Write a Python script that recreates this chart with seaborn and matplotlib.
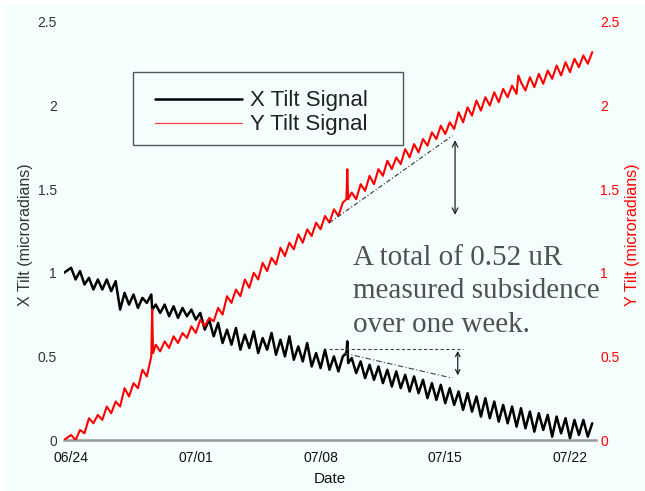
import matplotlib
matplotlib.use("Agg")
import matplotlib.pyplot as plt
import numpy as np
import pandas as pd
import seaborn as sns
from matplotlib.lines import Line2D
from matplotlib.patches import Rectangle

# ---------------- data (days since 06/24) ----------------
x_days = [-0.4,
          0.0, 0.25, 0.5, 0.75,
          1.0, 1.25, 1.5, 1.75,
          2.0, 2.25, 2.5, 2.75,
          3.0, 3.25, 3.5, 3.75,
          4.0, 4.25, 4.5, 4.55, 4.75,
          5.0, 5.25, 5.5, 5.75,
          6.0, 6.25, 6.5, 6.75,
          7.0, 7.25, 7.5, 7.75,
          8.0, 8.25, 8.5, 8.75,
          9.0, 9.25, 9.5, 9.75,
          10.0, 10.25, 10.5, 10.75,
          11.0, 11.25, 11.5, 11.75,
          12.0, 12.25, 12.5, 12.75,
          13.0, 13.25, 13.5, 13.75,
          14.0, 14.25, 14.5, 14.75,
          15.0, 15.25, 15.45, 15.5, 15.55, 15.75,
          16.0, 16.25, 16.5, 16.75,
          17.0, 17.25, 17.5, 17.75,
          18.0, 18.25, 18.5, 18.75,
          19.0, 19.25, 19.5, 19.75,
          20.0, 20.25, 20.5, 20.75,
          21.0, 21.25, 21.5, 21.75,
          22.0, 22.25, 22.5, 22.75,
          23.0, 23.25, 23.5, 23.75,
          24.0, 24.25, 24.5, 24.75,
          25.0, 25.25, 25.5, 25.75,
          26.0, 26.25, 26.5, 26.75,
          27.0, 27.25, 27.5, 27.75,
          28.0, 28.25, 28.5, 28.75,
          29.0, 29.25]
x_tilt = [1.00,
          1.03, 0.96, 1.01, 0.93,
          0.97, 0.90, 0.96, 0.90,
          0.96, 0.89, 0.95, 0.78,
          0.88, 0.81, 0.87, 0.79,
          0.85, 0.82, 0.87, 0.78, 0.81,
          0.76, 0.81, 0.74, 0.80,
          0.73, 0.79, 0.74, 0.78,
          0.72, 0.76, 0.66, 0.72,
          0.62, 0.70, 0.58, 0.66,
          0.57, 0.67, 0.54, 0.63,
          0.55, 0.65, 0.52, 0.61,
          0.54, 0.64, 0.51, 0.60,
          0.50, 0.62, 0.48, 0.56,
          0.47, 0.58, 0.44, 0.52,
          0.43, 0.54, 0.42, 0.50,
          0.41, 0.50, 0.52, 0.59, 0.46, 0.49,
          0.40, 0.47, 0.37, 0.45,
          0.36, 0.44, 0.34, 0.42,
          0.32, 0.41, 0.31, 0.39,
          0.29, 0.38, 0.28, 0.36,
          0.25, 0.34, 0.24, 0.33,
          0.22, 0.31, 0.21, 0.29,
          0.18, 0.28, 0.17, 0.26,
          0.14, 0.25, 0.13, 0.23,
          0.11, 0.21, 0.10, 0.20,
          0.08, 0.19, 0.07, 0.17,
          0.05, 0.16, 0.06, 0.15,
          0.02, 0.14, 0.04, 0.13,
          0.01, 0.12, 0.03, 0.12,
          0.02, 0.10]

y_days = [-0.4,
          0.0, 0.25, 0.5, 0.75,
          1.0, 1.25, 1.5, 1.75,
          2.0, 2.25, 2.5, 2.75,
          3.0, 3.25, 3.5, 3.75,
          4.0, 4.25, 4.5, 4.55, 4.6, 4.75,
          5.0, 5.25, 5.5, 5.75,
          6.0, 6.25, 6.5, 6.75,
          7.0, 7.25, 7.5, 7.75,
          8.0, 8.25, 8.5, 8.75,
          9.0, 9.25, 9.5, 9.75,
          10.0, 10.25, 10.5, 10.75,
          11.0, 11.25, 11.5, 11.75,
          12.0, 12.25, 12.5, 12.75,
          13.0, 13.25, 13.5, 13.75,
          14.0, 14.25, 14.5, 14.75,
          15.0, 15.25, 15.45, 15.5, 15.55, 15.75,
          16.0, 16.25, 16.5, 16.75,
          17.0, 17.25, 17.5, 17.75,
          18.0, 18.25, 18.5, 18.75,
          19.0, 19.25, 19.5, 19.75,
          20.0, 20.25, 20.5, 20.75,
          21.0, 21.25, 21.5, 21.75,
          22.0, 22.25, 22.5, 22.75,
          23.0, 23.25, 23.5, 23.75,
          24.0, 24.25, 24.5, 24.75,
          25.0, 25.1, 25.25, 25.5, 25.75,
          26.0, 26.25, 26.5, 26.75,
          27.0, 27.25, 27.5, 27.75,
          28.0, 28.25, 28.5, 28.75,
          29.0, 29.25]
y_tilt = [0.00,
          0.03, 0.00, 0.06, 0.04,
          0.13, 0.10, 0.15, 0.12,
          0.20, 0.16, 0.23, 0.20,
          0.31, 0.26, 0.34, 0.31,
          0.42, 0.38, 0.50, 0.78, 0.52, 0.57,
          0.53, 0.59, 0.55, 0.62,
          0.58, 0.64, 0.61, 0.68,
          0.64, 0.72, 0.68, 0.73,
          0.71, 0.79, 0.75, 0.86,
          0.82, 0.90, 0.86, 0.96,
          0.91, 1.00, 0.96, 1.06,
          1.01, 1.09, 1.05, 1.15,
          1.10, 1.18, 1.14, 1.23,
          1.18, 1.26, 1.22, 1.30,
          1.26, 1.34, 1.30, 1.38,
          1.34, 1.42, 1.44, 1.62, 1.44, 1.48,
          1.44, 1.53, 1.49, 1.58,
          1.53, 1.62, 1.58, 1.67,
          1.62, 1.69, 1.65, 1.74,
          1.69, 1.77, 1.72, 1.80,
          1.76, 1.84, 1.80, 1.88,
          1.83, 1.90, 1.86, 1.96,
          1.90, 1.99, 1.94, 2.03,
          1.97, 2.05, 2.00, 2.08,
          2.02, 2.10, 2.05, 2.12,
          2.07, 2.18, 2.14, 2.09, 2.17,
          2.11, 2.19, 2.13, 2.21,
          2.16, 2.24, 2.18, 2.26,
          2.20, 2.28, 2.23, 2.30,
          2.25, 2.32]

date_ticks = [0, 7, 14, 21, 28]
date_labels = ["06/24", "07/01", "07/08", "07/15", "07/22"]
tilt_ticks = [0, 0.5, 1, 1.5, 2, 2.5]
tilt_labels = ["0", "0.5", "1", "1.5", "2", "2.5"]
series_names = ["X Tilt Signal", "Y Tilt Signal"]
note_lines = ["A total of 0.52 uR", "measured subsidence", "over one week."]

# annotation guides (data coordinates)
red_trend = ([14.5, 21.4], [1.30, 1.82])
red_arrow = (21.55, 1.81, 1.33)
black_level = ([14.5, 22.0], [0.545, 0.545])
black_trend = ([15.3, 21.4], [0.52, 0.37])
black_arrow = (21.7, 0.55, 0.37)
note_pos = (15.8, [1.045, 0.848, 0.645])

# ---------------- styling ----------------
sns.set_style("white")
plt.rcParams["font.family"] = ["Liberation Sans", "DejaVu Sans"]
BG = "#F4FFFD"

fig = plt.figure(figsize=(6.45, 4.91), dpi=100, facecolor="white")
fig.patches.append(Rectangle((5 / 645, 0), 1, 1 - 5 / 491, transform=fig.transFigure,
                             facecolor=BG, edgecolor="none", zorder=-10))
ax = fig.add_axes([64 / 645, 51 / 491, 532 / 645, 418 / 491])
ax.set_facecolor(BG)
ax.patch.set_alpha(0)
ax2 = ax.twinx()
ax2.patch.set_alpha(0)

dfx = pd.DataFrame({"day": x_days, "tilt": x_tilt})
dfy = pd.DataFrame({"day": y_days, "tilt": y_tilt})
sns.lineplot(data=dfx, x="day", y="tilt", ax=ax, color="black", lw=1.8,
             estimator=None, sort=False, legend=False, solid_joinstyle="round")
sns.lineplot(data=dfy, x="day", y="tilt", ax=ax2, color="#FF0000", lw=1.5,
             estimator=None, sort=False, legend=False, solid_joinstyle="round")

for a in (ax, ax2):
    a.set_xlim(-0.4, 29.46)
    a.set_ylim(0, 2.5)
    for s in ("left", "right", "top"):
        a.spines[s].set_visible(False)
ax2.spines["bottom"].set_visible(False)
ax.spines["bottom"].set_color("#999999")
ax.spines["bottom"].set_linewidth(1.8)

ax.set_xticks(date_ticks)
ax.set_xticklabels(date_labels)
ax.set_xticks([0, 21], minor=True)
ax.tick_params(axis="x", which="major", length=0, pad=8, labelsize=10, labelcolor="#111111")
ax.tick_params(axis="x", which="minor", length=4, direction="in", color="#777777")

ax.set_yticks(tilt_ticks)
ax.set_yticklabels(tilt_labels)
ax.set_yticks([1.5, 2], minor=True)
ax.tick_params(axis="y", which="major", length=0, pad=5, labelsize=10, labelcolor="#333333")
ax.tick_params(axis="y", which="minor", length=4, direction="in", color="#444444")

ax2.set_yticks(tilt_ticks)
ax2.set_yticklabels(tilt_labels)
ax2.set_yticks([1.5, 2], minor=True)
ax2.tick_params(axis="y", which="major", length=0, pad=3, labelsize=10, labelcolor="#FF0000")
ax2.tick_params(axis="y", which="minor", length=4, direction="in", color="#FF4040")

ax.set_xlabel("Date", fontsize=11, color="#111111")
ax.xaxis.label.set_va("center")
ax.xaxis.set_label_coords(0.5, -0.093)
ax.set_ylabel("X Tilt (microradians)", fontsize=11.5, color="#333333")
ax.yaxis.label.set_va("center")
ax.yaxis.set_label_coords(-0.073, 0.49)
ax2.set_ylabel("Y Tilt (microradians)", fontsize=11.5, color="#FF0000", rotation=90)
ax2.yaxis.label.set_va("center")
ax2.yaxis.set_label_coords(1.068, 0.49)

# annotations
ax2.plot(*red_trend, color="#333333", lw=0.8, ls=(0, (4, 2, 1, 2)))
ax2.annotate("", xy=(red_arrow[0], red_arrow[1]), xytext=(red_arrow[0], red_arrow[2]),
             arrowprops=dict(arrowstyle="<->", color="#222222", lw=0.9, mutation_scale=10))
ax.plot(*black_level, color="#444444", lw=0.8, ls=(0, (3, 2)))
ax.plot(*black_trend, color="#444444", lw=0.8, ls=(0, (5, 2, 1, 2)))
ax.annotate("", xy=(black_arrow[0], black_arrow[1]), xytext=(black_arrow[0], black_arrow[2]),
            arrowprops=dict(arrowstyle="<->", color="#222222", lw=0.9, mutation_scale=8))
for line, yv in zip(note_lines, note_pos[1]):
    ax2.text(note_pos[0], yv, line, family=["Liberation Serif", "DejaVu Serif"],
             fontsize=21, color="#505050", va="baseline", ha="left")

# legend
handles = [Line2D([], [], color="black", lw=1.8), Line2D([], [], color="#FF4040", lw=0.9)]
ax2.legend(handles, series_names, loc="upper left", bbox_to_anchor=(0.171, 0.8366),
           frameon=False, borderpad=0, borderaxespad=0, handlelength=3.9,
           handletextpad=0.36, labelspacing=0.135, prop={"size": 16},
           labelcolor="#222222")
ax2.add_patch(Rectangle((0.1297, 0.7057), 0.5075, 0.1743, transform=ax2.transAxes,
                        fill=False, edgecolor="#555555", lw=1.0, clip_on=False))

fig.savefig("out.png", dpi=100, facecolor=fig.get_facecolor())
